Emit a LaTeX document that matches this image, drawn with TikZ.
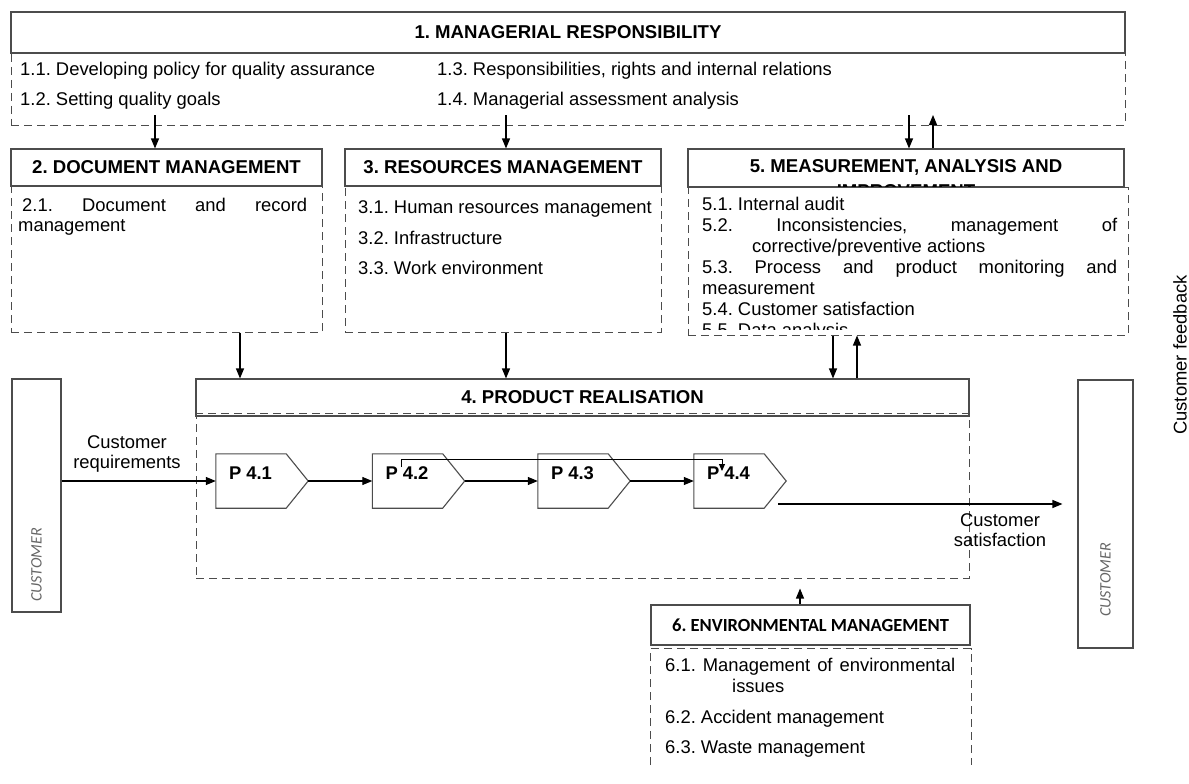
\documentclass[tikz,border=0pt]{standalone}
\usepackage{fontspec}
\setmainfont{Liberation Sans}
\newfontfamily\carlito{Carlito}
\usetikzlibrary{arrows.meta}
\newcommand\mybody{\fontsize{18.4}{20}\selectfont}
\newcommand\myhdr{\fontsize{18.6}{21}\selectfont\bfseries}
\frenchspacing
\begin{document}
\begin{tikzpicture}[x=1pt,y=-1pt,
  solidline/.style={draw=black!70, line width=1.1pt},
  hdr/.style={solidline, fill=white, inner sep=0pt, font=\myhdr, text=black},
  dbox/.style={draw=black!70, line width=1pt, dash pattern=on 8pt off 5pt, inner sep=0pt},
  dline/.style={draw=black!70, line width=1pt, dash pattern=on 8pt off 5pt},
  txt/.style={inner sep=0pt, anchor=base west, font=\mybody, text=black},
  ctxt/.style={inner sep=0pt, font=\mybody, text=black, align=center},
  ptxt/.style={inner sep=0pt, anchor=base west, font=\mybody\bfseries, text=black},
  pnode/.style={draw=none, inner sep=0pt, minimum width=92pt, minimum height=54pt},
  cust/.style={solidline, inner sep=0pt},
  custtxt/.style={inner sep=0pt, rotate=90, font=\carlito\itshape\fontsize{16}{18}\selectfont, text=black!60},
  arr/.style={draw=black, line width=1.1pt, -{Triangle[length=10pt,width=8pt]}},
  sarr/.style={draw=black, line width=1pt, -{Triangle[length=7pt,width=6pt]}},
]
\useasboundingbox (0,0) rectangle (1189,784);

% ---------- Box 1 ----------
\node[dbox, minimum width=1114pt, minimum height=72pt] (b1) at (568,89) {};
\node[hdr, minimum width=1114pt, minimum height=41pt] (h1) at (568,32.5) {1. MANAGERIAL RESPONSIBILITY};
\node[txt] (t11) at (20,76) {1.1. Developing policy for quality assurance};
\node[txt] (t12) at (20,106) {1.2. Setting quality goals};
\node[txt] (t13) at (437,76) {1.3. Responsibilities, rights and internal relations};
\node[txt] (t14) at (437,106) {1.4. Managerial assessment analysis};

% ---------- Box 2 ----------
\node[dbox, minimum width=311pt, minimum height=146pt] (b2) at (166.5,259) {};
\node[hdr, minimum width=311pt, minimum height=37pt] (h2) at (166.5,167.5) {2. DOCUMENT MANAGEMENT};
\node[txt] (t21) at (18,211) {\makebox[289pt][s]{\hspace{4pt}2.1. Document and record}};
\node[txt] (t21b) at (18,231) {management};

% ---------- Box 3 ----------
\node[dbox, minimum width=316pt, minimum height=146pt] (b3) at (503,259) {};
\node[hdr, minimum width=316pt, minimum height=37pt] (h3) at (503,167.5) {3. RESOURCES MANAGEMENT};
\node[txt] (t31) at (358,213) {3.1. Human resources management};
\node[txt] (t32) at (358,244) {3.2. Infrastructure};
\node[txt] (t33) at (358,274) {3.3. Work environment};

% ---------- Box 5 ----------
\node[dbox, fill=white, minimum width=440pt, minimum height=148pt] (b5) at (908,261) {};
\node[hdr, minimum width=436pt, minimum height=38pt] (h5) at (906,168) {};
\begin{scope}
  \clip (688,149) rectangle (1124,186);
  \node[inner sep=0pt, font=\myhdr] (h5a) at (906,167) {5. MEASUREMENT, ANALYSIS AND};
  \node[inner sep=0pt, font=\myhdr] (h5b) at (906,191) {IMPROVEMENT};
\end{scope}
\node[txt] (t51) at (702,210) {5.1. Internal audit};
\node[txt] (t52) at (702,231) {\makebox[415pt][s]{5.2. Inconsistencies, management of}};
\node[txt] (t52b) at (752,252) {corrective/preventive actions};
\node[txt] (t53) at (702,273) {\makebox[415pt][s]{5.3. Process and product monitoring and}};
\node[txt] (t53b) at (702,294) {measurement};
\node[txt] (t54) at (702,315) {5.4. Customer satisfaction};
\begin{scope}
  \clip (690,300) rectangle (1126,329);
  \node[txt] (t55) at (702,336) {5.5. Data analysis};
\end{scope}

% ---------- Box 4 ----------
\node[dbox, minimum width=773pt, minimum height=162pt] (b4) at (582.5,497) {};
\node[hdr, minimum width=773pt, minimum height=37pt] (h4) at (582.5,397.5) {4. PRODUCT REALISATION};
\draw[dline] ([yshift=3pt]h4.south west) -- ([yshift=3pt]h4.south east);

\foreach \i/\x in {1/262,2/418.5,3/584,4/740} {
  \node[pnode] (p\i) at (\x,481) {};
  \draw[solidline] (p\i.north west) -- ([xshift=-22pt]p\i.north east) -- (p\i.east)
     -- ([xshift=-22pt]p\i.south east) -- (p\i.south west) -- cycle;
  \node[ptxt] (pl\i) at ([shift={(13,26)}]p\i.north west) {P 4.\i};
}

% ---------- Customers ----------
\node[cust, minimum width=49pt, minimum height=233pt] (cl) at (36.5,495.5) {};
\node[custtxt] (clt) at (36.5,565) {CUSTOMER};
\node[cust, minimum width=55pt, minimum height=268pt] (cr) at (1105.5,514) {};
\node[custtxt] (crt) at (1105.5,580) {CUSTOMER};
\node[ctxt, rotate=90] (cfb) at (1180,355) {Customer feedback};

\node[ctxt] (creq) at (127,454) {Customer\\requirements};
\node[ctxt] (csat) at (1000,530) {Customer\\satisfaction};

% ---------- Box 6 ----------
\node[draw=none, inner sep=0pt, minimum width=320pt, minimum height=116pt] (b6) at (811,707) {};
\draw[dline] (b6.south west) -- (b6.north west) -- (b6.north east) -- (b6.south east);
\node[hdr, font=\carlito\bfseries\fontsize{18.5}{20}\selectfont, minimum width=319pt, minimum height=40pt] (h6) at (810.5,625) {6. ENVIRONMENTAL MANAGEMENT};
\node[txt] (t61) at (665,671) {\makebox[290pt][s]{6.1. Management of environmental}};
\node[txt] (t61b) at (732,692) {issues};
\node[txt] (t62) at (665,723) {6.2. Accident management};
\node[txt] (t63) at (665,753) {6.3. Waste management};

% ---------- Connectors ----------
\coordinate (a12) at (155,115);
\coordinate (a13) at (506,115);
\coordinate (a15) at (909,115);
\coordinate (a51) at (933,115);
\draw[arr] (a12) -- (a12 |- h2.north);
\draw[arr] (a13) -- (a13 |- h3.north);
\draw[arr] (a15) -- (a15 |- h5.north);
\draw[arr] (a51 |- h5.north) -- (a51);

\coordinate (x24) at (240,0);
\coordinate (x34) at (506,0);
\coordinate (x54) at (833,0);
\coordinate (x45) at (857,0);
\coordinate (x64) at (800,0);
\draw[arr] (b2.south -| x24) -- (h4.north -| x24);
\draw[arr] (b3.south -| x34) -- (h4.north -| x34);
\draw[arr] (b5.south -| x54) -- (h4.north -| x54);
\draw[arr] (h4.north -| x45) -- (b5.south -| x45);
\draw[arr] (h6.north -| x64) -- ([yshift=-10pt]b4.south -| x64);

\draw[arr] (cl.east |- p1.west) -- (p1.west);
\draw[arr] (p1.east) -- (p2.west);
\draw[arr] (p2.east) -- (p3.west);
\draw[arr] (p3.east) -- (p4.west);

\coordinate (ov1) at (401,467);
\coordinate (ov2) at (722,471);
\draw[sarr] (ov1) -- ([yshift=8pt]ov1) -| (ov2);

\coordinate (o4) at (778,504);
\draw[arr] (o4) -- ([xshift=-15pt]cr.west |- o4);
\end{tikzpicture}
\end{document}
